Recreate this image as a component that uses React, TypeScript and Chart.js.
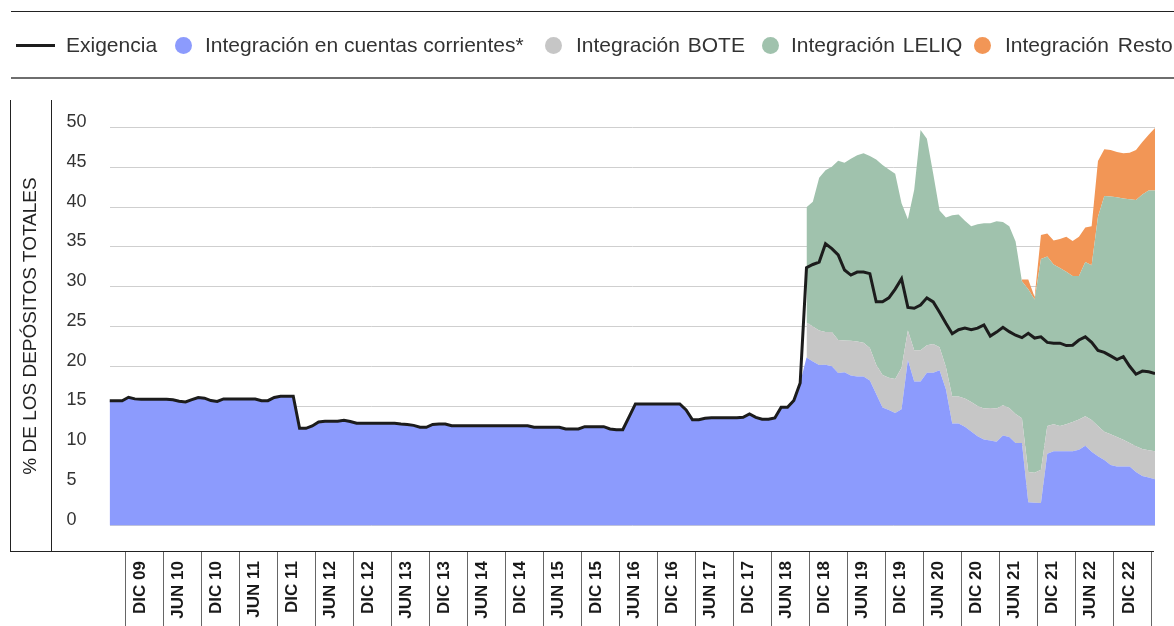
import React, { useEffect, useRef } from 'react';
import { Chart, registerables } from 'chart.js';

Chart.register(...registerables);

// ---- Category labels shown on the x axis (one every six months) ----
const TICK_LABELS = [
  'DIC 09', 'JUN 10', 'DIC 10', 'JUN 11', 'DIC 11', 'JUN 12', 'DIC 12', 'JUN 13', 'DIC 13',
  'JUN 14', 'DIC 14', 'JUN 15', 'DIC 15', 'JUN 16', 'DIC 16', 'JUN 17', 'DIC 17', 'JUN 18',
  'DIC 18', 'JUN 19', 'DIC 19', 'JUN 20', 'DIC 20', 'JUN 21', 'DIC 21', 'JUN 22', 'DIC 22',
];
const Y_TICKS = [0, 5, 10, 15, 20, 25, 30, 35, 40, 45, 50];

const SERIES_NAMES = [
  'Exigencia',
  'Integración en cuentas corrientes*',
  'Integración BOTE',
  'Integración LELIQ',
  'Integración Resto',
];

// ---- Monthly series (index 0 = first month of the chart, mid-2009) ----
const EXIGENCIA = [
  15.67, 15.67, 15.67, 16.1, 15.9, 15.85, 15.85, 15.85, 15.85, 15.85,
  15.78, 15.61, 15.52, 15.8, 16.07, 15.99, 15.69, 15.57, 15.89, 15.89,
  15.89, 15.89, 15.89, 15.89, 15.67, 15.67, 16.08, 16.22, 16.22, 16.22,
  12.2, 12.2, 12.5, 13.0, 13.08, 13.08, 13.08, 13.22, 13.05, 12.83,
  12.83, 12.83, 12.83, 12.83, 12.83, 12.83, 12.75, 12.69, 12.57, 12.33,
  12.33, 12.68, 12.74, 12.74, 12.53, 12.53, 12.53, 12.53, 12.53, 12.53,
  12.53, 12.53, 12.53, 12.53, 12.53, 12.53, 12.53, 12.33, 12.33, 12.33,
  12.33, 12.33, 12.11, 12.11, 12.11, 12.4, 12.4, 12.4, 12.4, 12.12,
  12.03, 12.03, 13.64, 15.26, 15.26, 15.26, 15.26, 15.26, 15.26, 15.26,
  15.26, 14.52, 13.28, 13.28, 13.45, 13.54, 13.54, 13.54, 13.54, 13.54,
  13.58, 14.0, 13.57, 13.33, 13.33, 13.5, 14.84, 14.84, 15.7, 17.9,
  32.4, 32.8, 33.1, 35.4, 34.8, 34.0, 32.1, 31.47, 31.85, 31.85,
  31.65, 28.1, 28.1, 28.6, 29.7, 31.0, 27.4, 27.3, 27.7, 28.6,
  28.1, 26.8, 25.4, 24.1, 24.6, 24.8, 24.6, 24.8, 25.2, 23.8,
  24.3, 24.9, 24.35, 23.9, 23.6, 24.15, 23.55, 23.7, 23.0, 22.9,
  22.9, 22.6, 22.65, 23.3, 23.7, 23.0, 22.0, 21.75, 21.3, 20.85,
  21.2, 20.0, 19.0, 19.4, 19.3, 19.1,
];

const CUENTAS_CORRIENTES = [
  15.67, 15.67, 15.67, 16.1, 15.9, 15.85, 15.85, 15.85, 15.85, 15.85,
  15.78, 15.61, 15.52, 15.8, 16.07, 15.99, 15.69, 15.57, 15.89, 15.89,
  15.89, 15.89, 15.89, 15.89, 15.67, 15.67, 16.08, 16.22, 16.22, 16.22,
  12.2, 12.2, 12.5, 13.0, 13.08, 13.08, 13.08, 13.22, 13.05, 12.83,
  12.83, 12.83, 12.83, 12.83, 12.83, 12.83, 12.75, 12.69, 12.57, 12.33,
  12.33, 12.68, 12.74, 12.74, 12.53, 12.53, 12.53, 12.53, 12.53, 12.53,
  12.53, 12.53, 12.53, 12.53, 12.53, 12.53, 12.53, 12.33, 12.33, 12.33,
  12.33, 12.33, 12.11, 12.11, 12.11, 12.4, 12.4, 12.4, 12.4, 12.12,
  12.03, 12.03, 13.64, 15.26, 15.26, 15.26, 15.26, 15.26, 15.26, 15.26,
  15.26, 14.52, 13.28, 13.28, 13.45, 13.54, 13.54, 13.54, 13.54, 13.54,
  13.58, 14.0, 13.57, 13.33, 13.33, 13.5, 14.84, 14.84, 15.7, 17.9,
  21.1, 20.6, 20.15, 20.2, 20.0, 19.15, 19.25, 18.85, 18.7, 18.7,
  18.2, 16.5, 14.8, 14.5, 14.12, 14.6, 20.8, 18.1, 18.1, 19.2,
  19.2, 19.5, 17.1, 12.8, 12.8, 12.4, 11.8, 11.2, 10.8, 10.65,
  10.5, 11.3, 11.1, 10.35, 10.35, 2.9, 2.85, 2.8, 9.0, 9.3,
  9.3, 9.3, 9.3, 9.5, 10.0, 9.25, 8.7, 8.2, 7.6, 7.4,
  7.4, 7.4, 6.7, 6.2, 6.0, 5.8,
];

const BOTE_START = 110;
const BOTE = [
  4.4, 4.4, 4.35, 4.1, 4.3, 4.15, 4.0, 4.35, 4.4, 4.25,
  4.1, 3.7, 4.1, 4.05, 4.28, 5.2, 3.7, 3.9, 3.9, 3.45,
  3.6, 2.9, 2.8, 3.4, 3.4, 3.55, 3.7, 3.8, 3.9, 4.1,
  4.2, 3.8, 3.65, 3.65, 3.1, 3.8, 3.75, 4.2, 3.5, 3.4,
  3.2, 3.4, 3.7, 3.8, 3.7, 4.0, 3.8, 3.55, 3.85, 3.7,
  3.35, 2.95, 3.25, 3.4, 3.45, 3.5,
];

const LELIQ_START = 110;
const LELIQ = [
  14.5, 15.7, 19.2, 20.35, 20.8, 22.55, 22.35, 22.9, 23.45, 23.85,
  24.15, 25.8, 26.4, 26.2, 25.8, 20.7, 14.0, 20.2, 27.7, 25.95,
  21.4, 17.2, 18.8, 22.8, 22.9, 22.35, 22.1, 22.85, 23.3, 23.25,
  23.55, 23.05, 22.85, 21.7, 17.25, 23.0, 21.8, 26.5, 21.3, 20.1,
  19.85, 19.2, 18.35, 18.05, 19.4, 19.45, 26.3, 29.65, 29.9, 30.15,
  30.35, 30.65, 30.95, 32.0, 32.65, 32.8,
];

const RESTO_START = 144;
const RESTO = [
  0.2, 1.2, 0.3, 3.0, 2.9, 3.0, 3.65, 4.4, 4.4, 4.95,
  4.35, 4.9, 7.0, 5.9, 5.85, 5.7, 5.7, 5.85, 6.3, 6.6,
  7.0, 7.85,
];

const LAST_MONTH = EXIGENCIA.length - 1;

const BLUE = '#8c9bfd';
const GRAY = '#c6c6c6';
const GREEN = '#a0c2ad';
const ORANGE = '#f29656';
const FONT = '"Liberation Sans", Arial, Helvetica, sans-serif';

const toPoints = (arr: number[], start: number) => arr.map((y, k) => ({ x: start + k, y }));

export default function App() {
  const canvasRef = useRef<HTMLCanvasElement | null>(null);

  useEffect(() => {
    const canvas = canvasRef.current;
    if (!canvas) return;
    Chart.defaults.font.family = FONT;

    const area = (label: string, data: any[], color: string, fill: any) => ({
      label,
      data,
      backgroundColor: color,
      borderColor: 'rgba(0,0,0,0)',
      borderWidth: 0,
      pointRadius: 0,
      tension: 0,
      fill,
      order: 1,
    });

    const chart = new Chart(canvas, {
      type: 'line',
      data: {
        datasets: [
          {
            label: SERIES_NAMES[0],
            data: toPoints(EXIGENCIA, 0),
            borderColor: '#1c1c1c',
            borderWidth: 3,
            pointRadius: 0,
            tension: 0,
            fill: false,
            stack: 'exigencia',
            order: 0,
          } as any,
          area(SERIES_NAMES[1], toPoints(CUENTAS_CORRIENTES, 0), BLUE, 'origin'),
          area(SERIES_NAMES[2], toPoints(BOTE, BOTE_START), GRAY, 1),
          area(SERIES_NAMES[3], toPoints(LELIQ, LELIQ_START), GREEN, 2),
          area(SERIES_NAMES[4], toPoints(RESTO, RESTO_START), ORANGE, 3),
        ],
      },
      options: {
        animation: false,
        responsive: false,
        maintainAspectRatio: false,
        events: [],
        layout: { padding: { left: 66.5, right: 19, top: 127.7, bottom: 0 } },
        plugins: { legend: { display: false }, tooltip: { enabled: false }, title: { display: false } },
        scales: {
          x: {
            type: 'linear',
            min: 0,
            max: LAST_MONTH,
            offset: false,
            afterBuildTicks: (scale: any) => {
              scale.ticks = TICK_LABELS.map((_, k) => ({ value: 5.5 + 6 * k }));
            },
            afterFit: (scale: any) => {
              scale.height = 89;
            },
            border: { display: false },
            grid: {
              offset: true,
              drawOnChartArea: false,
              drawTicks: true,
              tickLength: 80,
              color: '#666666',
              lineWidth: 1,
            },
            ticks: {
              autoSkip: false,
              minRotation: 90,
              maxRotation: 90,
              padding: -70,
              labelOffset: -4,
              color: '#1a1a1a',
              font: { family: FONT, size: 17, weight: 'bold' },
              callback: (_v: any, i: number) => TICK_LABELS[i],
            },
          },
          y: {
            type: 'linear',
            stacked: true,
            min: -3.23,
            max: 50,
            afterBuildTicks: (scale: any) => {
              scale.ticks = Y_TICKS.map((v) => ({ value: v }));
            },
            afterFit: (scale: any) => {
              scale.width = 43;
            },
            border: { display: false },
            grid: { color: '#cfcfcf', lineWidth: 1, drawTicks: false },
            ticks: {
              crossAlign: 'far',
              padding: 0,
              labelOffset: -5.5,
              color: '#333333',
              font: { family: FONT, size: 18 },
              callback: (v: any) => String(v),
            },
          },
        },
      } as any,
    });

    return () => chart.destroy();
  }, []);

  const textStyle: React.CSSProperties = {
    position: 'absolute',
    top: 34,
    fontSize: 21,
    lineHeight: '22px',
    color: '#333',
    whiteSpace: 'nowrap',
    fontFamily: FONT,
  };
  const dot = (cx: number, color: string): React.CSSProperties => ({
    position: 'absolute',
    left: cx - 8.5,
    top: 37,
    width: 17,
    height: 17,
    borderRadius: '50%',
    background: color,
  });

  return (
    <div
      style={{
        position: 'absolute',
        left: 0,
        top: 0,
        width: 1174,
        height: 626,
        overflow: 'hidden',
        background: '#fff',
        fontFamily: FONT,
      }}
    >
      <canvas
        ref={canvasRef}
        width={1174}
        height={640}
        style={{ position: 'absolute', left: 0, top: 0, width: 1174, height: 640 }}
      />

      {/* legend rules */}
      <div style={{ position: 'absolute', left: 11, top: 11, width: 1163, height: 1, background: '#222' }} />
      <div style={{ position: 'absolute', left: 11, top: 77, width: 1163, height: 2, background: '#6e6e6e' }} />

      {/* legend */}
      <div style={{ position: 'absolute', left: 16, top: 44, width: 39, height: 3, background: '#1c1c1c' }} />
      <div style={{ ...textStyle, left: 66 }}>{SERIES_NAMES[0]}</div>
      <div style={dot(183, BLUE)} />
      <div style={{ ...textStyle, left: 205 }}>{SERIES_NAMES[1]}</div>
      <div style={dot(553, GRAY)} />
      <div style={{ ...textStyle, left: 576, wordSpacing: 2 }}>{SERIES_NAMES[2]}</div>
      <div style={dot(770.5, GREEN)} />
      <div style={{ ...textStyle, left: 791, wordSpacing: 2 }}>{SERIES_NAMES[3]}</div>
      <div style={dot(982.5, ORANGE)} />
      <div style={{ ...textStyle, left: 1005, wordSpacing: 3 }}>{SERIES_NAMES[4]}</div>

      {/* frame around plot */}
      <div style={{ position: 'absolute', left: 10, top: 100, width: 1, height: 452, background: '#222' }} />
      <div style={{ position: 'absolute', left: 51, top: 100, width: 1, height: 452, background: '#222' }} />
      <div style={{ position: 'absolute', left: 10, top: 551, width: 1144, height: 1, background: '#222' }} />

      {/* y axis title */}
      <div
        style={{
          position: 'absolute',
          left: 30 - 200,
          top: 326 - 11,
          width: 400,
          height: 22,
          lineHeight: '22px',
          fontSize: 19,
          color: '#222',
          textAlign: 'center',
          whiteSpace: 'nowrap',
          transform: 'rotate(-90deg)',
          fontFamily: FONT,
        }}
      >
        % DE LOS DEPÓSITOS TOTALES
      </div>
    </div>
  );
}
